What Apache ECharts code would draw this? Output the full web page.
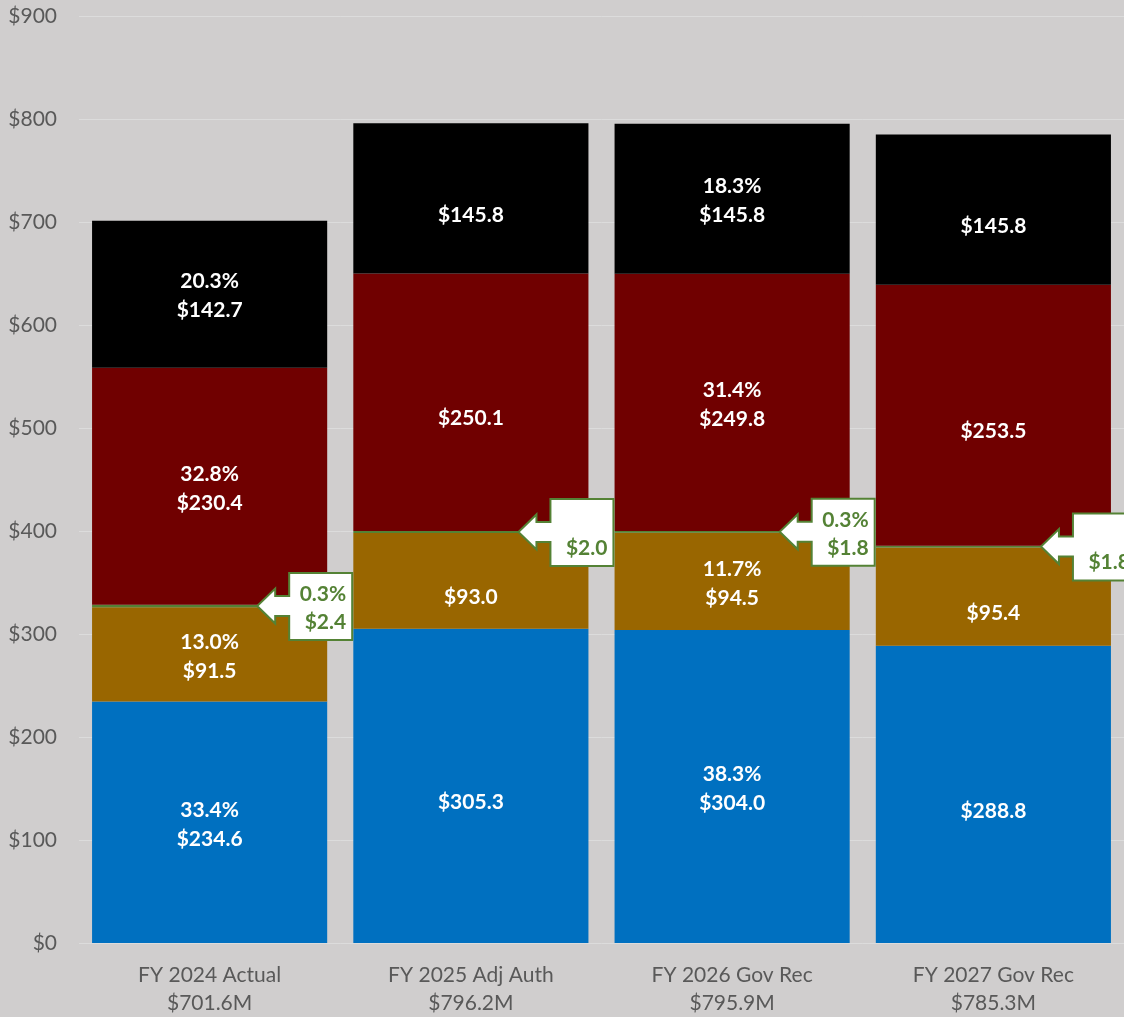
<!DOCTYPE html>
<html>
<head>
<meta charset="utf-8">
<script src="https://cdn.jsdelivr.net/npm/echarts@6/dist/echarts.min.js"></script>
<style>
  html, body { margin: 0; padding: 0; background: #D0CECE; }
  #chart { width: 1124px; height: 1017px; }
</style>
</head>
<body>
<div id="chart"></div>
<script>
const categories = ['FY 2024 Actual', 'FY 2025 Adj Auth', 'FY 2026 Gov Rec', 'FY 2027 Gov Rec'];
const totalLabels = ['$701.6M', '$796.2M', '$795.9M', '$785.3M'];

const blueValues  = [234.6, 305.3, 304.0, 288.8];
const bluePct     = ['33.4%', '', '38.3%', ''];
const brownValues = [91.5, 93.0, 94.5, 95.4];
const brownPct    = ['13.0%', '', '11.7%', ''];
const greenValues = [2.4, 2.0, 1.8, 1.8];
const greenPct    = ['0.3%', '', '0.3%', ''];
const redValues   = [230.4, 250.1, 249.8, 253.5];
const redPct      = ['32.8%', '', '31.4%', ''];
const blackValues = [142.7, 145.8, 145.8, 145.8];
const blackPct    = ['20.3%', '', '18.3%', ''];

const FONT = 'Lato, "Open Sans", sans-serif';
const GREEN = '#548235';

function labelFor(pcts) {
  return {
    show: true,
    position: 'inside',
    color: '#FFFFFF',
    fontWeight: 'bold',
    fontSize: 21,
    lineHeight: 29,
    fontFamily: FONT,
    offset: [0, 2],
    formatter: p => (pcts[p.dataIndex] || ' ') + '\n$' + p.value.toFixed(1)
  };
}

function barSeries(name, data, color, pcts, showLabel) {
  return {
    name: name,
    type: 'bar',
    stack: 'total',
    data: data,
    barCategoryGap: '10%',
    itemStyle: { color: color },
    label: showLabel ? labelFor(pcts) : { show: false },
    emphasis: { disabled: true },
    silent: true
  };
}

// callout anchor points: middle of the thin green segment
const calloutData = categories.map((c, i) => [
  i,
  blueValues[i] + brownValues[i] + greenValues[i] / 2,
  greenPct[i],
  '$' + greenValues[i].toFixed(1)
]);

function renderCallout(params, api) {
  const idx = api.value(0);
  const v = api.value(1);
  const pt = api.coord([idx, v]);
  const bandW = api.size([1, 0])[0];
  const barRight = pt[0] + bandW * 0.45;
  const tipX = barRight - 70;
  const tipY = pt[1];
  const headX = tipX + 18;
  const bx = barRight - 38;
  const bw = 63;
  const top = tipY - 33;
  const bottom = tipY + 34;
  const headHalf = 17.5;
  const shaftHalf = 10;
  const points = [
    [bx, top], [bx + bw, top], [bx + bw, bottom], [bx, bottom],
    [bx, tipY + shaftHalf], [headX, tipY + shaftHalf], [headX, tipY + headHalf],
    [tipX, tipY], [headX, tipY - headHalf], [headX, tipY - shaftHalf],
    [bx, tipY - shaftHalf]
  ];
  const item = calloutData[params.dataIndex];
  const children = [{
    type: 'polygon',
    shape: { points: points },
    style: { fill: '#FFFFFF', stroke: GREEN, lineWidth: 2 }
  }];
  if (item[2]) {
    children.push({
      type: 'text',
      style: {
        text: item[2], x: bx + bw - 6, y: tipY - 12,
        align: 'right', verticalAlign: 'middle',
        fill: GREEN, fontWeight: 'bold', fontSize: 21, fontFamily: FONT
      }
    });
  }
  children.push({
    type: 'text',
    style: {
      text: item[3], x: bx + bw - 6, y: tipY + 16,
      align: 'right', verticalAlign: 'middle',
      fill: GREEN, fontWeight: 'bold', fontSize: 21, fontFamily: FONT
    }
  });
  return { type: 'group', children: children };
}

const chart = echarts.init(document.getElementById('chart'), null, { renderer: 'canvas' });
chart.setOption({
  backgroundColor: '#D0CECE',
  animation: false,
  grid: { left: 79, right: -2, top: 16.5, bottom: 73.5, containLabel: false },
  xAxis: {
    type: 'category',
    data: categories,
    axisLine: { show: false },
    axisTick: { show: false },
    axisLabel: {
      color: '#595959',
      fontSize: 21,
      lineHeight: 28,
      margin: 18,
      fontFamily: FONT,
      formatter: (val, i) => val + '\n' + totalLabels[i]
    }
  },
  yAxis: {
    type: 'value',
    min: 0,
    max: 900,
    interval: 100,
    axisLine: { show: false },
    axisTick: { show: false },
    splitLine: { lineStyle: { color: '#DCDCDC', width: 1 } },
    axisLabel: {
      color: '#595959',
      fontSize: 21,
      margin: 22,
      fontFamily: FONT,
      formatter: v => '$' + v
    }
  },
  series: [
    barSeries('Blue', blueValues, '#0070C0', bluePct, true),
    barSeries('Brown', brownValues, '#996600', brownPct, true),
    barSeries('Green', greenValues, GREEN, greenPct, false),
    barSeries('Red', redValues, '#700000', redPct, true),
    barSeries('Black', blackValues, '#000000', blackPct, true),
    {
      type: 'custom',
      name: 'Callouts',
      data: calloutData,
      renderItem: renderCallout,
      clip: false,
      silent: true,
      z: 10
    }
  ]
});
</script>
</body>
</html>
